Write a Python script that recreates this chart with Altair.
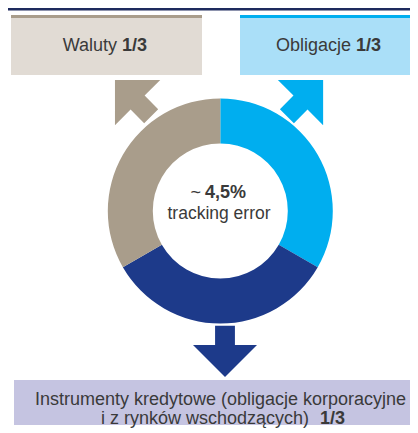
import altair as alt
import pandas as pd

# ---- data -------------------------------------------------------------
segments = ["Obligacje", "Instrumenty kredytowe", "Waluty"]
shares = [1, 1, 1]                     # each 1/3
seg_colors = ["#00aeef", "#1d3a8a", "#a99d8b"]

# boxes (reference pixel layout)
box_x1 = [8, 11, 11, 240, 240, 14]
box_x2 = [418, 202, 202, 418, 418, 418]
box_y1 = [8, 15, 15, 15, 15, 380]
box_y2 = [10.5, 75, 18, 75, 18, 432]
box_col = ["#1e2b5e", "#e1dbd4", "#a99d8b", "#aadff8", "#00aeef", "#c5c4e1"]

# arrows (head-base centre, rotation)
arr_x = [137.6, 300.5, 225]
arr_y = [102.6, 102.6, 345]
arr_ang = [315, 45, 180]
arr_col = ["#a99d8b", "#00aeef", "#1d3a8a"]
ARROW = "M0,-1 L1,0 L0.31,0 L0.31,0.6 L-0.31,0.6 L-0.31,0 L-1,0 Z"

# text pieces
txt_norm_right = pd.DataFrame({
    "x": [117, 351, 201, 309],
    "y": [51, 51, 198, 424],
    "t": ["Waluty", "Obligacje", "~", "i z rynków wschodzących)"],
})
txt_bold_left = pd.DataFrame({
    "x": [122, 356, 205, 320],
    "y": [51, 51, 198, 424],
    "t": ["1/3", "1/3", "4,5%", "1/3"],
})
txt_center = pd.DataFrame({
    "x": [219, 220.5],
    "y": [219, 405],
    "t": ["tracking error", "Instrumenty kredytowe (obligacje korporacyjne"],
    "s": [17.5, 18],
})

FONT = "Liberation Sans"
TXT = "#3a3a3a"

W, H = 402, 417
xs = alt.Scale(domain=[8, 8 + W], range=[0, W], nice=False, zero=False)
ys = alt.Scale(domain=[8, 8 + H], range=[0, H], nice=False, zero=False)


def X(f):
    return alt.X(f, type="quantitative", scale=xs, axis=None)


def Y(f):
    return alt.Y(f, type="quantitative", scale=ys, axis=None)


boxes = pd.DataFrame({"x": box_x1, "x2": box_x2, "y": box_y1, "y2": box_y2, "c": box_col})
rects = alt.Chart(boxes).mark_rect(clip=True).encode(
    x=X("x"), x2="x2", y=Y("y"), y2="y2",
    color=alt.Color("c:N", scale=None),
)

arrows_df = pd.DataFrame({"x": arr_x, "y": arr_y, "a": arr_ang, "c": arr_col})
arrows = alt.Chart(arrows_df).mark_point(
    shape=ARROW, filled=True, opacity=1, strokeWidth=0, size=4096
).encode(
    x=X("x"), y=Y("y"),
    angle=alt.Angle("a:Q", scale=None),
    color=alt.Color("c:N", scale=None),
)

ring_df = pd.DataFrame({"seg": segments, "share": shares, "c": seg_colors, "i": [0, 1, 2]})
ring = alt.Chart(ring_df).mark_arc(outerRadius=112.5, innerRadius=67.5).encode(
    theta=alt.Theta("share:Q", stack=True),
    color=alt.Color("c:N", scale=None),
    order=alt.Order("i:Q"),
    x=alt.value(220.3 - 8),
    y=alt.value(211 - 8),
)

t1 = alt.Chart(txt_norm_right).mark_text(
    align="right", baseline="alphabetic", font=FONT, fontSize=18, color=TXT
).encode(x=X("x"), y=Y("y"), text="t:N")
t2 = alt.Chart(txt_bold_left).mark_text(
    align="left", baseline="alphabetic", font=FONT, fontSize=18, fontWeight="bold", color=TXT
).encode(x=X("x"), y=Y("y"), text="t:N")
t3 = alt.Chart(txt_center).mark_text(
    align="center", baseline="alphabetic", font=FONT, color=TXT
).encode(x=X("x"), y=Y("y"), text="t:N", size=alt.Size("s:Q", scale=None))

chart = alt.layer(rects, arrows, ring, t1, t2, t3).properties(
    width=W, height=H, padding=0, background="white"
).configure_view(stroke=None)

chart.save("out.html", embed_options={"renderer": "svg", "actions": False})
